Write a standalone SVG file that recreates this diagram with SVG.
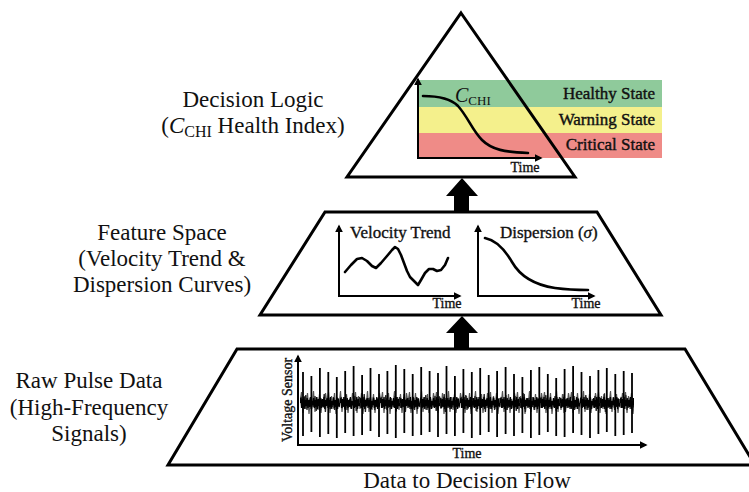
<svg xmlns="http://www.w3.org/2000/svg" width="749" height="492" viewBox="0 0 749 492">
  <style>
    .lbl { font-family: "Liberation Serif", "Times New Roman", serif; font-size: 23px; fill: #111; text-anchor: middle; }
    .head { font-family: "Liberation Serif", "Times New Roman", serif; font-size: 17px; fill: #111; stroke: #111; stroke-width: 0.35; }
    .state { font-family: "Liberation Serif", "Times New Roman", serif; font-size: 17px; fill: #111; stroke: #111; stroke-width: 0.4; text-anchor: end; }
    .tick { font-family: "Liberation Serif", "Times New Roman", serif; font-size: 14px; fill: #111; stroke: #111; stroke-width: 0.35; text-anchor: middle; }
    .frame { fill: none; stroke: #000; stroke-width: 3; stroke-linejoin: miter; }
    .axis { fill: none; stroke: #000; stroke-width: 2; marker-end: url(#tip); }
    .curve { fill: none; stroke: #000; stroke-width: 2.6; stroke-linecap: round; stroke-linejoin: round; }
    .block { fill: #000; }
  </style>
  <defs>
    <marker id="tip" viewBox="0 0 10 10" refX="8" refY="5" markerWidth="8" markerHeight="8" markerUnits="userSpaceOnUse" orient="auto">
      <path d="M0,0 L10,5 L0,10 z" fill="#000"/>
    </marker>
    <!-- repeating noise floor for the pulse trace -->
    <pattern id="noise" x="300" y="388" width="40" height="30" patternUnits="userSpaceOnUse">
      <polyline fill="none" stroke="#222" stroke-width="1.3" points="0,15 1.2,9 2.4,20 3.5,11 4.7,18 5.8,7 7,22 8.1,12 9.3,17 10.4,10 11.6,21 12.7,13 13.9,19 15,8 16.2,23 17.3,12 18.5,16 19.6,9 20.8,20 21.9,14 23.1,18 24.2,6 25.4,24 26.5,11 27.7,17 28.8,10 30,21 31.1,13 32.3,19 33.4,9 34.6,22 35.7,12 36.9,18 38,10 39.2,19 40,15"/>
    </pattern>
    <pattern id="noise3" x="300" y="388" width="20" height="30" patternUnits="userSpaceOnUse">
      <polyline fill="none" stroke="#000" stroke-width="1.3" points="0,15 0.8,10 1.6,20 2.4,11 3.2,19 4,9 4.8,21 5.6,12 6.4,18 7.2,10 8,20 8.8,12 9.6,19 10.4,9 11.2,21 12,13 12.8,17 13.6,10 14.4,20 15.2,12 16,19 16.8,9 17.6,21 18.4,11 19.2,18 20,15"/>
    </pattern>
    <pattern id="noise2" x="300" y="388" width="27" height="30" patternUnits="userSpaceOnUse">
      <polyline fill="none" stroke="#555" stroke-width="1.2" points="0,15 1.5,4 3,25 4.5,8 6,21 7.5,5 9,26 10.5,10 12,19 13.5,3 15,24 16.5,9 18,22 19.5,6 21,25 22.5,11 24,20 25.5,5 27,15"/>
    </pattern>
  </defs>

  <rect width="749" height="492" fill="#fff"/>

  <!-- top tier: decision logic -->
  <g id="decision-logic">
    <rect x="419" y="80" width="243" height="27" fill="#8fca9b"/>
    <rect x="419" y="107" width="243" height="26" fill="#f4f08c"/>
    <rect x="419" y="133" width="243" height="25" fill="#ef8b87"/>
    <polygon class="frame" points="461,13 575,177 347,177"/>
    <text class="state" x="655" y="99">Healthy State</text>
    <text class="state" x="655" y="125">Warning State</text>
    <text class="state" x="655" y="150">Critical State</text>
    <line class="axis" x1="418" y1="159" x2="418" y2="79"/>
    <line class="axis" x1="417" y1="158" x2="541" y2="158"/>
    <path class="curve" d="M423,96 C438,96 450,98 458,106 C468,117 472,130 482,140 C492,150 505,152 528,153"/>
    <text x="455" y="102" style="font-family:'Liberation Serif',serif;font-size:20px;fill:#111"><tspan font-style="italic">C</tspan><tspan font-size="13" dy="3">CHI</tspan></text>
    <text class="tick" x="525" y="172">Time</text>
  </g>

  <!-- middle tier: feature space -->
  <g id="feature-space">
    <polygon class="frame" points="325,212 597,212 661,315 260,315"/>
    <line class="axis" x1="339" y1="297" x2="339" y2="226"/>
    <line class="axis" x1="338" y1="296" x2="460" y2="296"/>
    <text class="head" x="350" y="238">Velocity Trend</text>
    <polyline class="curve" points="345,272 351,265 357,259 362,258 367,261 372,266 376,268 381,263 387,256 392,250 395,247 398,249 401,255 404,263 407,271 410,277 414,281 418,285 421,280 425,273 429,269 433,269 437,271 441,270 445,265 448,258"/>
    <text class="tick" x="447" y="308">Time</text>
    <line class="axis" x1="478" y1="297" x2="478" y2="226"/>
    <line class="axis" x1="477" y1="296" x2="594" y2="296"/>
    <text class="head" x="500" y="238">Dispersion (<tspan font-style="italic">σ</tspan>)</text>
    <path class="curve" d="M485,238 C495,240 505,250 512,262 C520,276 535,285 555,288 C570,290 580,290 588,290"/>
    <text class="tick" x="586" y="308">Time</text>
  </g>

  <!-- bottom tier: raw pulse data -->
  <g id="raw-pulse">
    <polygon class="frame" points="237,349 685,349 755,465 168,465"/>
    <rect x="300" y="388" width="334" height="30" fill="url(#noise2)"/>
    <rect x="300" y="388" width="334" height="30" fill="url(#noise)"/>
    <rect x="300" y="388" width="334" height="30" fill="url(#noise3)"/>
    <path fill="none" stroke="#000" stroke-width="1.8" d="M303,372V436 M311.4,376V432 M319.9,368V437 M328.3,372V434 M336.8,377V438 M345.2,371V433 M353.6,366V436 M362.1,375V435 M370.5,368V431 M379,374V437 M387.4,371V434 M395.8,365V438 M404.3,369V433 M412.7,374V436 M421.2,367V435 M429.6,371V432 M438,373V437 M446.5,366V434 M454.9,376V436 M463.4,369V433 M471.8,372V438 M480.2,368V435 M488.7,375V432 M497.1,371V437 M505.6,367V434 M514,374V436 M522.4,377V433 M530.9,370V438 M539.3,367V435 M547.8,374V432 M556.2,378V436 M564.6,369V437 M573.1,366V433 M581.5,372V435 M590,376V438 M598.4,370V434 M606.8,368V432 M615.3,374V436 M623.7,371V435 M632,373V433"/>
    <line class="axis" x1="298" y1="446" x2="298" y2="356"/>
    <line class="axis" x1="297" y1="445" x2="646" y2="445"/>
    <text class="tick" transform="translate(292,400) rotate(-90)">Voltage Sensor</text>
    <text class="tick" x="467" y="458">Time</text>
  </g>

  <!-- flow arrows between tiers -->
  <g id="connectors">
    <polygon class="block" points="462,178 446,196 454,196 454,212 469,212 469,196 478,196"/>
    <polygon class="block" points="462,316 446,333 454,333 454,349 469,349 469,333 478,333"/>
  </g>

  <!-- tier captions -->
  <g id="labels">
    <text class="lbl" x="253" y="107">Decision Logic</text>
    <text class="lbl" x="253" y="133">(<tspan font-style="italic">C</tspan><tspan font-size="16" dy="4">CHI</tspan><tspan dy="-4"> Health Index)</tspan></text>
    <text class="lbl" x="162" y="240">Feature Space</text>
    <text class="lbl" x="162" y="266">(Velocity Trend &amp;</text>
    <text class="lbl" x="162" y="292">Dispersion Curves)</text>
    <text class="lbl" x="89" y="388">Raw Pulse Data</text>
    <text class="lbl" x="89" y="415">(High-Frequency</text>
    <text class="lbl" x="89" y="441">Signals)</text>
    <text class="lbl" x="467" y="488">Data to Decision Flow</text>
  </g>
</svg>
